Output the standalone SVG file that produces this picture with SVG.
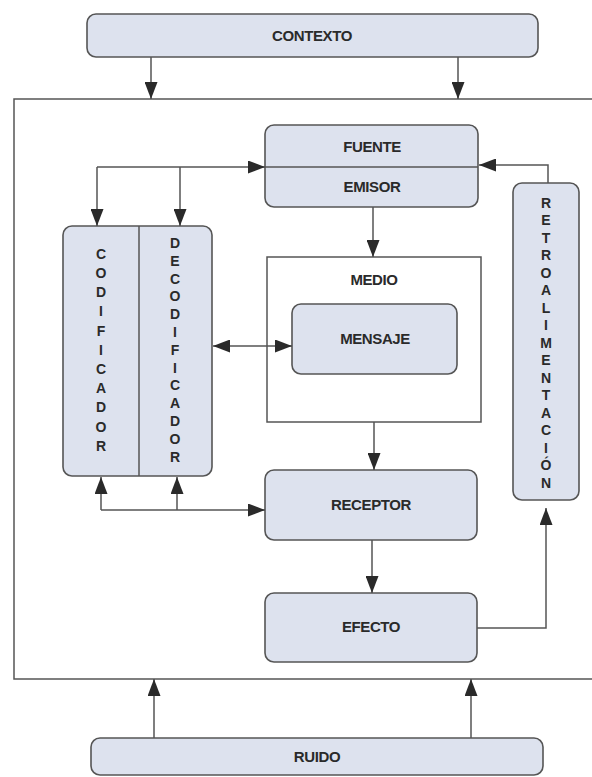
<svg xmlns="http://www.w3.org/2000/svg" width="592" height="777" viewBox="0 0 592 777">
<style>
.box{fill:#dde2ee;stroke:#555;stroke-width:1.6}
.plain{fill:none;stroke:#555;stroke-width:1.5}
.ln{fill:none;stroke:#555;stroke-width:1.5}
.t{font-family:"Liberation Sans",Arial,sans-serif;font-weight:bold;font-size:15px;fill:#2a2a2a;text-anchor:middle;letter-spacing:-0.4px}
.v{font-family:"Liberation Sans",Arial,sans-serif;font-weight:bold;font-size:14px;fill:#2a2a2a;text-anchor:middle}
</style>
<defs>
<marker id="ah" markerUnits="userSpaceOnUse" markerWidth="17" markerHeight="13" refX="17" refY="6.5" orient="auto-start-reverse" viewBox="0 0 17 13">
<path d="M0,0 L17,6.5 L0,13 Z" fill="#2a2a2a"/>
</marker>
</defs>
<rect width="592" height="777" fill="#fff"/>
<g id="entorno"><path class="plain" d="M592,99 H14 V679 H592"/></g>
<g id="contexto"><rect class="box" x="87" y="14" width="451" height="43" rx="9"/><text class="t" x="312" y="41">CONTEXTO</text></g>
<g id="ruido"><rect class="box" x="91" y="738" width="452" height="37" rx="9"/><text class="t" x="317" y="762">RUIDO</text></g>
<g id="fuente"><rect class="box" x="265" y="125" width="213" height="82" rx="9"/><line class="ln" x1="265" y1="167" x2="478" y2="167"/><text class="t" x="372" y="152">FUENTE</text><text class="t" x="372" y="192">EMISOR</text></g>
<g id="medio"><rect class="plain" x="267" y="257" width="214" height="165"/><text class="t" x="374" y="285">MEDIO</text></g>
<g id="mensaje"><rect class="box" x="292" y="304" width="165" height="70" rx="9"/><text class="t" x="375" y="344">MENSAJE</text></g>
<g id="receptor"><rect class="box" x="265" y="470" width="212" height="70" rx="9"/><text class="t" x="371" y="510">RECEPTOR</text></g>
<g id="efecto"><rect class="box" x="265" y="593" width="212" height="69" rx="9"/><text class="t" x="371" y="632">EFECTO</text></g>
<g id="codificador"><rect class="box" x="63" y="226" width="149" height="250" rx="9"/><line class="ln" x1="139" y1="226" x2="139" y2="476"/>
<text class="v" x="101"><tspan x="101" y="259">C</tspan><tspan x="101" y="278">O</tspan><tspan x="101" y="297">D</tspan><tspan x="101" y="316">I</tspan><tspan x="101" y="336">F</tspan><tspan x="101" y="355">I</tspan><tspan x="101" y="374">C</tspan><tspan x="101" y="393">A</tspan><tspan x="101" y="412">D</tspan><tspan x="101" y="432">O</tspan><tspan x="101" y="451">R</tspan></text>
</g>
<g id="decodificador">
<text class="v" x="175"><tspan x="175" y="248">D</tspan><tspan x="175" y="266">E</tspan><tspan x="175" y="284">C</tspan><tspan x="175" y="301">O</tspan><tspan x="175" y="319">D</tspan><tspan x="175" y="337">I</tspan><tspan x="175" y="355">F</tspan><tspan x="175" y="373">I</tspan><tspan x="175" y="390">C</tspan><tspan x="175" y="408">A</tspan><tspan x="175" y="426">D</tspan><tspan x="175" y="444">O</tspan><tspan x="175" y="462">R</tspan></text>
</g>
<g id="retroalimentacion"><rect class="box" x="513" y="183" width="66" height="317" rx="9"/>
<text class="v" x="546"><tspan x="546" y="208">R</tspan><tspan x="546" y="225">E</tspan><tspan x="546" y="243">T</tspan><tspan x="546" y="260">R</tspan><tspan x="546" y="278">O</tspan><tspan x="546" y="295">A</tspan><tspan x="546" y="313">L</tspan><tspan x="546" y="330">I</tspan><tspan x="546" y="348">M</tspan><tspan x="546" y="365">E</tspan><tspan x="546" y="383">N</tspan><tspan x="546" y="400">T</tspan><tspan x="546" y="418">A</tspan><tspan x="546" y="435">C</tspan><tspan x="546" y="453">I</tspan><tspan x="546" y="470">Ó</tspan><tspan x="546" y="488">N</tspan></text>
</g>
<g id="conectores">
<line class="ln" x1="151" y1="57" x2="151" y2="99" marker-end="url(#ah)"/>
<line class="ln" x1="458" y1="57" x2="458" y2="99" marker-end="url(#ah)"/>
<line class="ln" x1="154" y1="738" x2="154" y2="679" marker-end="url(#ah)"/>
<line class="ln" x1="471" y1="738" x2="471" y2="679" marker-end="url(#ah)"/>
<line class="ln" x1="97" y1="167" x2="265" y2="167" marker-end="url(#ah)"/>
<line class="ln" x1="97" y1="167" x2="97" y2="226" marker-end="url(#ah)"/>
<line class="ln" x1="180" y1="167" x2="180" y2="226" marker-end="url(#ah)"/>
<line class="ln" x1="101" y1="510" x2="265" y2="510" marker-end="url(#ah)"/>
<line class="ln" x1="101" y1="510" x2="101" y2="477" marker-end="url(#ah)"/>
<line class="ln" x1="177" y1="510" x2="177" y2="477" marker-end="url(#ah)"/>
<line class="ln" x1="213" y1="346" x2="292" y2="346" marker-start="url(#ah)" marker-end="url(#ah)"/>
<line class="ln" x1="373" y1="207" x2="373" y2="257" marker-end="url(#ah)"/>
<line class="ln" x1="374" y1="422" x2="374" y2="470" marker-end="url(#ah)"/>
<line class="ln" x1="372" y1="540" x2="372" y2="593" marker-end="url(#ah)"/>
<path class="ln" d="M477,628 H546 V508" marker-end="url(#ah)"/>
<path class="ln" d="M548,183 V165 H479" marker-end="url(#ah)"/>
</g>
</svg>
